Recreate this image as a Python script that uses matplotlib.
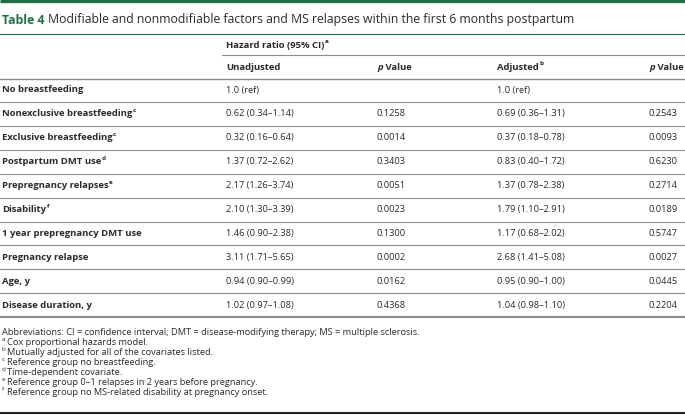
import matplotlib
matplotlib.use("Agg")
import matplotlib.pyplot as plt

plt.rcParams['font.family'] = ['Open Sans', 'DejaVu Sans']

# ---------------------------------------------------------
# TABLE CONTENT
# ---------------------------------------------------------
title_label = "Table 4"
title_text = "Modifiable and nonmodifiable factors and MS relapses within the first 6 months postpartum"

group_header = "Hazard ratio (95% CI)"
col_headers = ["Unadjusted", "p Value", "Adjusted", "p Value"]
col_marks = ["", "", "b", ""]

factors = ["No breastfeeding", "Nonexclusive breastfeeding", "Exclusive breastfeeding",
           "Postpartum DMT use", "Prepregnancy relapses", "Disability",
           "1 year prepregnancy DMT use", "Pregnancy relapse", "Age, y",
           "Disease duration, y"]
factor_marks = ["", "c", "c", "d", "e", "f", "", "", "", ""]

hr_unadjusted = ["1.0 (ref)", "0.62 (0.34–1.14)", "0.32 (0.16–0.64)", "1.37 (0.72–2.62)",
                 "2.17 (1.26–3.74)", "2.10 (1.30–3.39)", "1.46 (0.90–2.38)",
                 "3.11 (1.71–5.65)", "0.94 (0.90–0.99)", "1.02 (0.97–1.08)"]
p_unadjusted = ["", "0.1258", "0.0014", "0.3403", "0.0051", "0.0023", "0.1300",
                "0.0002", "0.0162", "0.4368"]
hr_adjusted = ["1.0 (ref)", "0.69 (0.36–1.31)", "0.37 (0.18–0.78)", "0.83 (0.40–1.72)",
               "1.37 (0.78–2.38)", "1.79 (1.10–2.91)", "1.17 (0.68–2.02)",
               "2.68 (1.41–5.08)", "0.95 (0.90–1.00)", "1.04 (0.98–1.10)"]
p_adjusted = ["", "0.2543", "0.0093", "0.6230", "0.2714", "0.0189", "0.5747",
              "0.0027", "0.0445", "0.2204"]

footnote_marks = ["", "a", "b", "c", "d", "e", "f"]
footnotes = ["Abbreviations: CI = confidence interval; DMT = disease-modifying therapy; MS = multiple sclerosis.",
             "Cox proportional hazards model.",
             "Mutually adjusted for all of the covariates listed.",
             "Reference group no breastfeeding.",
             "Time-dependent covariate.",
             "Reference group 0–1 relapses in 2 years before pregnancy.",
             "Reference group no MS-related disability at pregnancy onset."]

# ---------------------------------------------------------
# LAYOUT (pixel coordinates, y downwards)
# ---------------------------------------------------------
W, H = 685, 415
GREEN = "#1f6e47"
TEXT = "#2a2a2a"
RULE = "#8c8c8c"
col_x = [226, 377, 497, 649]
row_y0, row_dy = 90, 23.9
fs_body = 6.65
fs_bold = 6.8
fs_sup = 4.6
fs_title = 8.8

fig = plt.figure(figsize=(W / 100, H / 100), dpi=100)
ax = fig.add_axes([0, 0, 1, 1])
ax.set_xlim(0, W)
ax.set_ylim(H, 0)
ax.axis("off")
fig.canvas.draw()
renderer = fig.canvas.get_renderer()


def right_edge(t):
    bb = t.get_window_extent(renderer)
    return ax.transData.inverted().transform((bb.x1, bb.y0))[0]


def put(x, y, s, sup="", bold=False):
    # text with an optional superscript mark after it
    weight = "bold" if bold else "normal"
    t = ax.text(x, y, s, va="center", ha="left", color=TEXT,
                fontsize=fs_bold if bold else fs_body, fontweight=weight)
    if sup:
        ax.text(right_edge(t) + 0.5, y - 3.5, sup, va="center", ha="left", color=TEXT,
                fontsize=fs_sup, fontweight=weight)
    return t


def put_pvalue(x, y):
    t = ax.text(x, y, "p", va="center", ha="left", color=TEXT, fontsize=fs_bold,
                fontweight="bold", fontstyle="italic")
    ax.text(right_edge(t), y, " Value", va="center", ha="left", color=TEXT,
            fontsize=fs_bold, fontweight="bold")


# top bar and title
ax.plot([0, W], [1, 1], color=GREEN, lw=2.4, solid_capstyle="butt")
t = ax.text(2, 20, title_label + " ", va="center", ha="left", color=GREEN, fontsize=fs_title,
            fontweight="bold")
ax.text(right_edge(t), 20, title_text, va="center", ha="left", color=TEXT, fontsize=fs_title)
ax.plot([0, W], [34.5, 34.5], color=GREEN, lw=0.8)

# header rows
put(col_x[0], 45, group_header, "a", bold=True)
ax.plot([222, W], [55, 55], color=RULE, lw=0.8)
for x, h, m in zip(col_x, col_headers, col_marks):
    if h == "p Value":
        put_pvalue(x, 67)
    else:
        put(x, 67, h, m, bold=True)
ax.plot([0, W], [79, 79], color=RULE, lw=1.0)

# body rows
for i, name in enumerate(factors):
    y = row_y0 + i * row_dy
    put(2, y, name, factor_marks[i], bold=True)
    put(col_x[0], y, hr_unadjusted[i])
    put(col_x[1], y, p_unadjusted[i])
    put(col_x[2], y, hr_adjusted[i])
    put(col_x[3], y, p_adjusted[i])
    last = i == len(factors) - 1
    ax.plot([0, W], [y + 12, y + 12], color=RULE, lw=1.5 if last else 0.8)

# footnotes
for j, (mark, note) in enumerate(zip(footnote_marks, footnotes)):
    y = 332 + j * 10
    if mark:
        ax.text(2, y - 2.5, mark, va="center", ha="left", color=TEXT, fontsize=fs_sup)
        ax.text(7, y, note, va="center", ha="left", color=TEXT, fontsize=fs_body)
    else:
        ax.text(2, y, note, va="center", ha="left", color=TEXT, fontsize=fs_body)

ax.plot([0, W], [412.5, 412.5], color="#222222", lw=1.5)

fig.savefig("out.png", dpi=100)
